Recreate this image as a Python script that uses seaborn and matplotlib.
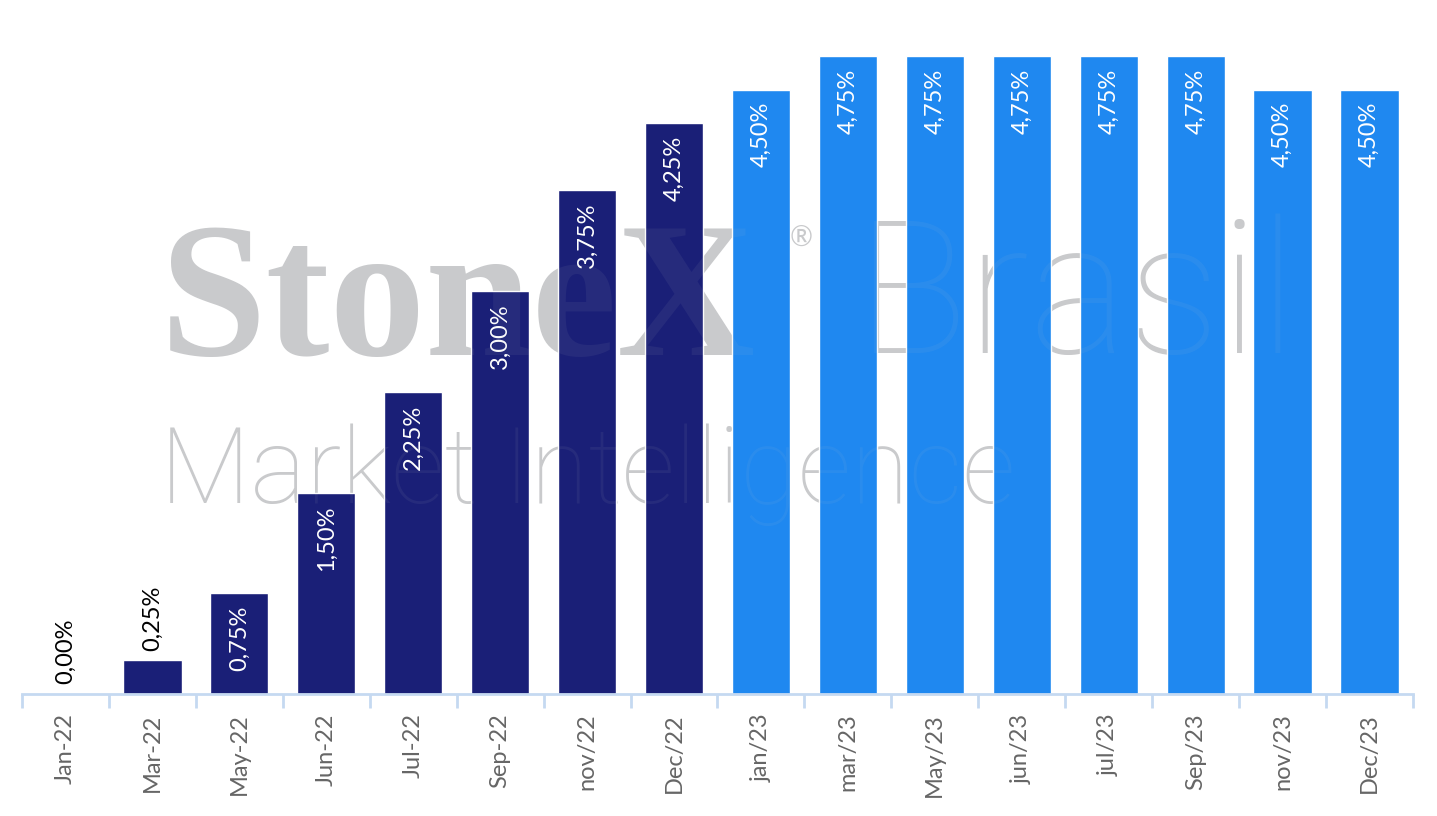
import numpy as np
import pandas as pd
import matplotlib
matplotlib.use("Agg")
import matplotlib.pyplot as plt
import seaborn as sns

# data
months = ["Jan-22", "Mar-22", "May-22", "Jun-22", "Jul-22", "Sep-22", "nov/22", "Dec/22",
          "jan/23", "mar/23", "May/23", "jun/23", "jul/23", "Sep/23", "nov/23", "Dec/23"]
rates = [0.00, 0.25, 0.75, 1.50, 2.25, 3.00, 3.75, 4.25,
         4.50, 4.75, 4.75, 4.75, 4.75, 4.75, 4.50, 4.50]
year = ["2022"] * 8 + ["2023"] * 8

df = pd.DataFrame({"month": months, "rate": rates, "year": year})

sns.set_style("white")
plt.rcParams["font.family"] = ["Lato", "DejaVu Sans"]

fig = plt.figure(figsize=(14.37, 8.16), dpi=100)
ax = fig.add_axes([22 / 1437, 122 / 816, 1391 / 1437, 638 / 816])

sns.barplot(data=df, x="month", y="rate", hue="year", dodge=False,
            palette={"2022": "#1a1f77", "2023": "#1f88f0"}, saturation=1,
            width=0.67, legend=False, ax=ax, zorder=2)

ax.set_ylim(0, 4.75)
ax.set_xlim(-0.5, len(months) - 0.5)
ax.set_xlabel("")
ax.set_ylabel("")
ax.set_yticks([])

for s in ["top", "right", "left"]:
    ax.spines[s].set_visible(False)
ax.spines["bottom"].set_color("#c5d9f1")
ax.spines["bottom"].set_linewidth(2)

ax.set_xticks(range(len(months)))
ax.set_xticklabels(months, rotation=90, fontsize=17, color="#666666")
ax.tick_params(axis="x", which="major", length=0, pad=14)
ax.set_xticks(np.arange(-0.5, len(months)), minor=True)
ax.tick_params(axis="x", which="minor", bottom=True, length=10, width=2, color="#c5d9f1")

# value labels
for i, v in enumerate(rates):
    txt = f"{v:.2f}%".replace(".", ",")
    if v >= 0.5:
        ax.annotate(txt, (i, v), xytext=(0, -9), textcoords="offset points",
                    rotation=90, ha="center", va="top", color="white", fontsize=17, zorder=5)
    else:
        ax.annotate(txt, (i, v), xytext=(0, 7), textcoords="offset points",
                    rotation=90, ha="center", va="bottom", color="black", fontsize=17, zorder=5)

# watermark: behind the bars, plus a faint copy on top
for z, a in [(0, 1.0), (3, 0.07)]:
    fig.text(160 / 1437, 0.565, "StoneX", family="Liberation Serif", fontweight="bold",
             fontsize=138, color="#c9cacc", alpha=a, ha="left", va="baseline", zorder=z)
    fig.text(790 / 1437, 0.707, "®", fontsize=20, color="#c9cacc", alpha=a,
             ha="left", va="center", zorder=z)
    fig.text(856 / 1437, 0.567, "Brasil", family="Roboto", fontweight="light",
             fontsize=134, color="#c9cacc", alpha=a, ha="left", va="baseline", zorder=z)
    fig.text(160 / 1437, 0.384, "Market Intelligence", family="Roboto", fontweight="light",
             fontsize=76, color="#c9cacc", alpha=a, ha="left", va="baseline", zorder=z)

ax.set_zorder(1)
ax.patch.set_alpha(0)

fig.savefig("out.png", dpi=100, facecolor="white")
